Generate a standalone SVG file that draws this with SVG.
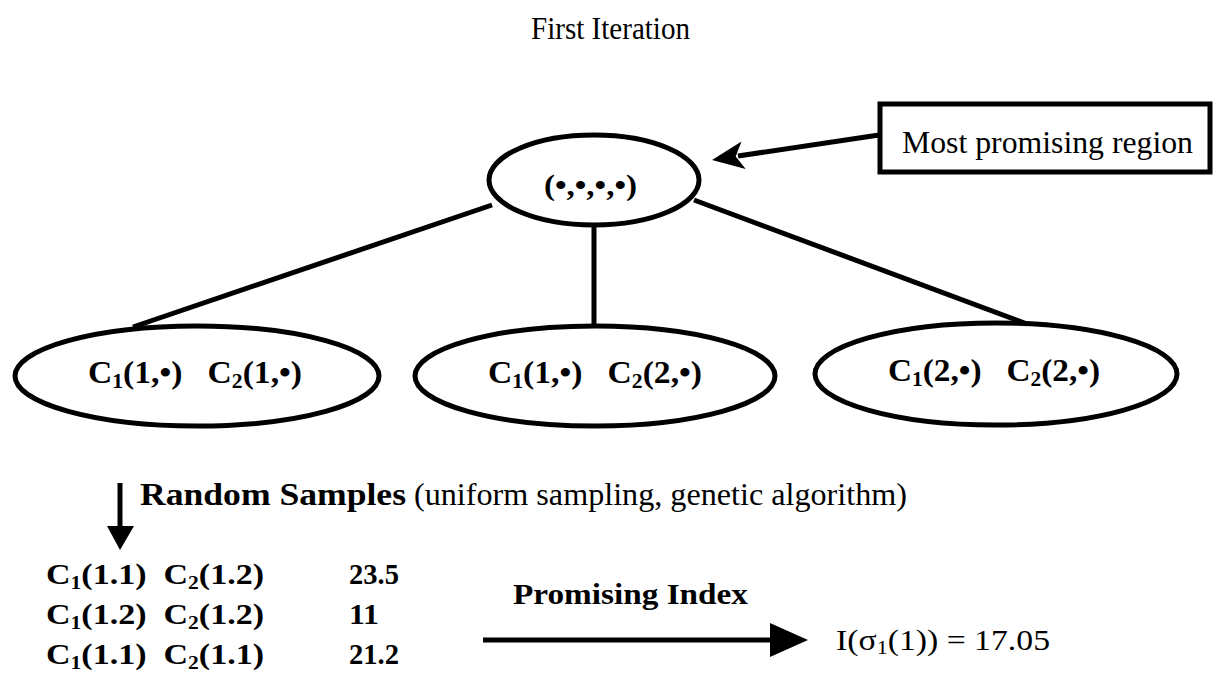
<svg xmlns="http://www.w3.org/2000/svg" width="1228" height="684" viewBox="0 0 1228 684" xml:space="preserve">
<style>
.bg{fill:#fff}
.node{fill:#fff;stroke:#000;stroke-width:5}
.edge{stroke:#000;stroke-width:5;fill:none}
.head{fill:#000;stroke:none}
.t{font-family:"Liberation Serif","Times New Roman",serif;fill:#000;white-space:pre}
.b{font-weight:bold}
</style>
<rect class="bg" x="0" y="0" width="1228" height="684"/>
<text class="t" x="531" y="39" font-size="32" textLength="159" lengthAdjust="spacingAndGlyphs">First Iteration</text>
<g id="connectors">
<line class="edge" x1="492" y1="205" x2="133" y2="327"/>
<line class="edge" x1="594" y1="224" x2="594" y2="327"/>
<line class="edge" x1="694" y1="200" x2="1046" y2="331"/>
<line class="edge" x1="879" y1="135" x2="738" y2="156"/>
<polygon class="head" points="712,160 745.7,169 735.7,156.4 741.5,141.4"/>
<line class="edge" x1="120" y1="483" x2="120" y2="530"/>
<polygon class="head" points="107,526 134,526 120,550"/>
<line class="edge" x1="483" y1="640" x2="776" y2="640"/>
<polygon class="head" points="808,640 770,623 770,657"/>
</g>
<g id="root">
<ellipse class="node" cx="594" cy="180" rx="105" ry="45"/>
<text class="t b" x="544" y="195" font-size="30" textLength="93" lengthAdjust="spacingAndGlyphs">(•,•,•,•)</text>
</g>
<g id="box">
<rect class="node" x="880" y="104" width="330" height="68"/>
<text class="t" x="902" y="153" font-size="31" textLength="291" lengthAdjust="spacingAndGlyphs">Most promising region</text>
</g>
<g id="child1">
<ellipse class="node" cx="197" cy="376" rx="182" ry="50"/>
<text class="t b" x="88" y="383" font-size="31" textLength="214" lengthAdjust="spacingAndGlyphs">C<tspan font-size="20" dy="5">1</tspan><tspan dy="-5">(1,•)   C</tspan><tspan font-size="20" dy="5">2</tspan><tspan dy="-5">(1,•)</tspan></text>
</g>
<g id="child2">
<ellipse class="node" cx="595" cy="376" rx="180" ry="50"/>
<text class="t b" x="488" y="383" font-size="31" textLength="214" lengthAdjust="spacingAndGlyphs">C<tspan font-size="20" dy="5">1</tspan><tspan dy="-5">(1,•)   C</tspan><tspan font-size="20" dy="5">2</tspan><tspan dy="-5">(2,•)</tspan></text>
</g>
<g id="child3">
<ellipse class="node" cx="996" cy="374" rx="181" ry="51"/>
<text class="t b" x="888" y="381" font-size="31" textLength="212" lengthAdjust="spacingAndGlyphs">C<tspan font-size="20" dy="5">1</tspan><tspan dy="-5">(2,•)   C</tspan><tspan font-size="20" dy="5">2</tspan><tspan dy="-5">(2,•)</tspan></text>
</g>
<g id="samples-label">
<text class="t b" x="140" y="505" font-size="31" textLength="266" lengthAdjust="spacingAndGlyphs">Random Samples</text>
<text class="t" x="414" y="505" font-size="31" textLength="493" lengthAdjust="spacingAndGlyphs">(uniform sampling, genetic algorithm)</text>
</g>
<g id="samples">
<text class="t b" x="46" y="584" font-size="30" textLength="218" lengthAdjust="spacingAndGlyphs">C<tspan font-size="19" dy="5">1</tspan><tspan dy="-5">(1.1)  C</tspan><tspan font-size="19" dy="5">2</tspan><tspan dy="-5">(1.2)</tspan></text>
<text class="t b" x="46" y="624" font-size="30" textLength="218" lengthAdjust="spacingAndGlyphs">C<tspan font-size="19" dy="5">1</tspan><tspan dy="-5">(1.2)  C</tspan><tspan font-size="19" dy="5">2</tspan><tspan dy="-5">(1.2)</tspan></text>
<text class="t b" x="46" y="664" font-size="30" textLength="218" lengthAdjust="spacingAndGlyphs">C<tspan font-size="19" dy="5">1</tspan><tspan dy="-5">(1.1)  C</tspan><tspan font-size="19" dy="5">2</tspan><tspan dy="-5">(1.1)</tspan></text>
<text class="t b" x="349" y="584" font-size="30" textLength="50" lengthAdjust="spacingAndGlyphs">23.5</text>
<text class="t b" x="349" y="624" font-size="30" textLength="30" lengthAdjust="spacingAndGlyphs">11</text>
<text class="t b" x="349" y="664" font-size="30" textLength="50" lengthAdjust="spacingAndGlyphs">21.2</text>
</g>
<g id="index">
<text class="t b" x="513" y="604" font-size="30" textLength="235" lengthAdjust="spacingAndGlyphs">Promising Index</text>
<text class="t" x="836" y="650" font-size="29" textLength="214" lengthAdjust="spacingAndGlyphs">I(σ<tspan font-size="19" dy="4">1</tspan><tspan dy="-4">(1)) = 17.05</tspan></text>
</g>
</svg>
